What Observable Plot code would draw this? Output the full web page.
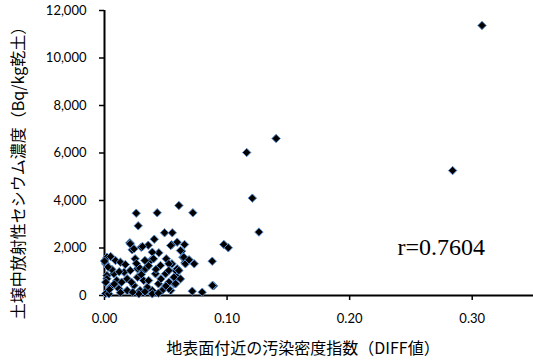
<!DOCTYPE html>
<html>
<head>
<meta charset="utf-8">
<script src="https://cdn.jsdelivr.net/npm/d3@7"></script>
<script src="https://cdn.jsdelivr.net/npm/@observablehq/plot@0.6"></script>
<style>
  html, body { margin: 0; padding: 0; background: #fff; }
</style>
</head>
<body>
<div id="chart"></div>
<script>
// DIFF value (x) and soil radiocesium concentration (y, Bq/kg dry soil)
const diffValues = [
  0.308, 0.284, 0.140, 0.116, 0.1206, 0.126, 0.0974, 0.101,
  0.0607, 0.0259, 0.043, 0.0721, 0.0275, 0.049, 0.0553, 0.0406, 0.0593, 0.0653,
  0.0207, 0.0226, 0.030, 0.0357, 0.0547, 0.0629, 0.0443, 0.0504, 0.0639, 0.0879,
  0.0732, 0.0656, 0.089, 0.0716, 0.0797,
  0.062, 0.0647, 0.066, 0.058, 0.059, 0.057, 0.088, 0.055,
  0.021, 0.031, 0.024, 0.002, 0.005, 0.009, 0.013, 0.017, 0.001, 0.002,
  0.0076, 0.016, 0.021, 0.027, 0.032, 0.010, 0.0185, 0.027, 0.032, 0.005,
  0.0117, 0.0185, 0.024, 0.029, 0.035, 0.001,
  0.054, 0.039, 0.0376, 0.0457, 0.0525, 0.0593, 0.0335, 0.0416, 0.0498, 0.0566,
  0.036, 0.044, 0.0525, 0.058, 0.039, 0.047, 0.054,
  0.025, 0.028, 0.033, 0.040, 0.002, 0.0035, 0.0525, 0.039, 0.028, 0.0607,
  0.069, 0.0525,
  0.006, 0.012, 0.014, 0.008, 0.022, 0.026, 0.030, 0.036, 0.042, 0.046,
  0.050, 0.013, 0.023, 0.033, 0.044, 0.062, 0.000, 0.003, 0.001, 0.004
];
const cesiumValues = [
  11370, 5260, 6610, 6020, 4100, 2670, 2147, 2008,
  3790, 3466, 3482, 3482, 2934, 2640, 2640, 2371, 2245, 2147,
  2218, 1924, 2034, 2118, 2134, 1865, 1798, 1545, 1613, 1444,
  1334, 1377, 408, 181, 139,
  1894, 1613, 1334, 1052, 771, 492, 421, 1334,
  2176, 2063, 1966, 1613, 1642, 1474, 1402, 1305, 1334, 842,
  913, 981, 1052, 1124, 1052, 631, 703, 771, 631, 350,
  282, 210, 421, 210, 350, 84,
  2105, 1823, 1474, 1263, 1334, 1124, 1124, 913, 913, 771,
  631, 492, 560, 492, 210, 210, 210,
  1545, 1191, 1474, 1545, 703, 70, 282, 70, 70, 1052,
  1503, 1052,
  1100, 1000, 560, 480, 560, 1350, 880, 1250, 1100, 700,
  400, 120, 140, 160, 100, 700, 1450, 1200, 560, 250
];
const xTicks = [0, 0.1, 0.2, 0.3];
const yTicks = [0, 2000, 4000, 6000, 8000, 10000, 12000];
const xTitle = "地表面付近の汚染密度指数（DIFF値）";
const yTitle = "土壌中放射性セシウム濃度（Bq/kg乾土）";
const rLabel = "r=0.7604";
const rLabelPos = {x: 0.239, y: 2030};

const data = diffValues.map((x, i) => ({x, y: cesiumValues[i]}));

const chart = Plot.plot({
  width: 533,
  height: 362,
  marginLeft: 104,
  marginRight: 0,
  marginTop: 10,
  marginBottom: 67,
  style: {fontFamily: "Lato, 'Noto Sans', sans-serif", fontSize: "13px", color: "#000", background: "#fff"},
  x: {domain: [0, 0.35]},
  y: {domain: [0, 12000]},
  marks: [
    Plot.axisX({ticks: xTicks, tickFormat: d => d.toFixed(2), tickSize: 5, tickPadding: 13, label: null, strokeWidth: 1.5, fontSize: 13}),
    Plot.axisY({ticks: yTicks, tickFormat: d3.format(","), tickSize: 5, tickPadding: 13, label: null, strokeWidth: 1.5, fontSize: 13}),
    Plot.ruleY([0], {stroke: "#000", strokeWidth: 2}),
    Plot.ruleX([0], {stroke: "#000", strokeWidth: 2}),
    Plot.dot(data, {x: "x", y: "y", symbol: "diamond2", r: 3.8, fill: "#000", stroke: "#5b8fd0", strokeWidth: 1}),
    Plot.text([rLabel], {x: () => rLabelPos.x, y: () => rLabelPos.y, text: d => d, textAnchor: "start", fill: "#000", fontFamily: "'Liberation Serif', serif", fontSize: 24}),
    Plot.text([xTitle], {frameAnchor: "bottom", text: d => d, textAnchor: "middle", lineAnchor: "middle", dy: 53, dx: -16, fill: "#000", fontSize: 16, fontFamily: "'Noto Sans CJK JP', sans-serif"}),
    Plot.text([yTitle], {frameAnchor: "left", text: d => d, textAnchor: "middle", lineAnchor: "middle", rotate: -90, dx: -86, dy: 16, fill: "#000", fontSize: 16, fontFamily: "'Noto Sans CJK JP', sans-serif"})
  ]
});
document.getElementById("chart").appendChild(chart);
</script>
</body>
</html>
